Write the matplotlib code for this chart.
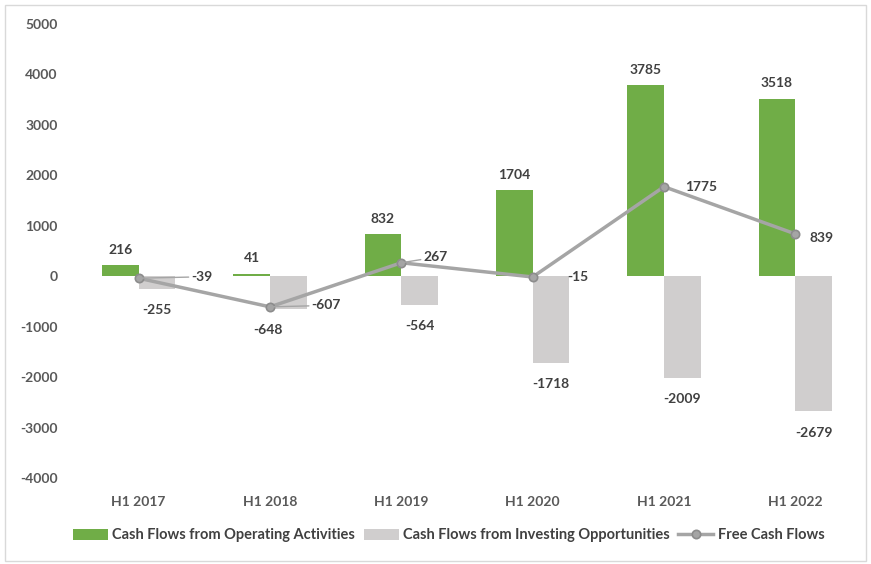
import matplotlib
matplotlib.use("Agg")
import matplotlib.pyplot as plt
import numpy as np
from matplotlib.patches import Rectangle

categories = ["H1 2017", "H1 2018", "H1 2019", "H1 2020", "H1 2021", "H1 2022"]
operating = [216, 41, 832, 1704, 3785, 3518]
investing = [-255, -648, -564, -1718, -2009, -2679]
free_cf = [-39, -607, 267, -15, 1775, 839]
yticks = [-4000, -3000, -2000, -1000, 0, 1000, 2000, 3000, 4000, 5000]

plt.rcParams['font.family'] = ['Lato', 'DejaVu Sans']
GREEN = "#70AD47"
GRAY = "#D0CECE"
LINE = "#A5A5A5"
TXT = "#404040"

fig = plt.figure(figsize=(8.71, 5.64), dpi=100)
fig.patches.append(Rectangle((0.006, 0.006), 0.988, 0.986, transform=fig.transFigure,
                             fill=False, edgecolor="#D9D9D9", lw=1))
ax = fig.add_axes([0.0838, 0.1525, 0.9047, 0.8049])

x = np.arange(len(categories))
w = 0.28
b1 = ax.bar(x - w / 2, operating, w, color=GREEN, label="Cash Flows from Operating Activities", zorder=2)
b2 = ax.bar(x + w / 2, investing, w, color=GRAY, label="Cash Flows from Investing Opportunities", zorder=2)
l1, = ax.plot(x, free_cf, color=LINE, lw=2.5, marker="o", ms=6, mfc=LINE, mec="#8C8C8C",
              mew=1.2, label="Free Cash Flows", zorder=3)

ax.set_ylim(-4000, 5000)
ax.set_xlim(-0.5, len(categories) - 0.5)
ax.set_yticks(yticks)
ax.set_yticklabels([str(t) for t in yticks])
ax.set_xticks(x)
ax.set_xticklabels(categories)
for s in ax.spines.values():
    s.set_visible(False)
ax.tick_params(length=0, labelsize=10, colors="#595959")
for lab in ax.get_xticklabels() + ax.get_yticklabels():
    lab.set_fontweight("bold")
ax.tick_params(axis='x', pad=13)
ax.tick_params(axis='y', pad=11)

# operating labels
for xi, v in zip(x, operating):
    ax.annotate(str(v), (xi - w / 2, v), xytext=(0, 7), textcoords="offset points",
                ha="center", va="bottom", fontsize=10, fontweight="bold", color=TXT)
# investing labels
inv_dx = [0, -15, 0, 0, 0, 0]
for xi, v, dx in zip(x, investing, inv_dx):
    ax.annotate(str(v), (xi + w / 2, v), xytext=(dx, -11), textcoords="offset points",
                ha="center", va="top", fontsize=10, fontweight="bold", color=TXT)
# free cash flow labels with leader lines
fcf_off = [(38, 1), (30, 1), (16, 4), (25, 0), (15, 0), (10, -3)]
leader = [True, True, True, False, False, False]
for xi, v, (dx, dy), ld in zip(x, free_cf, fcf_off, leader):
    ax.annotate(str(v), (xi, v), xytext=(dx, dy), textcoords="offset points",
                ha="left", va="center", fontsize=10, fontweight="bold", color=TXT,
                arrowprops=dict(arrowstyle="-", color=LINE, lw=1, shrinkA=0, shrinkB=2) if ld else None)

leg = fig.legend([b1, b2, l1], [b1.get_label(), b2.get_label(), l1.get_label()],
                 loc="center", bbox_to_anchor=(0.515, 0.051), ncol=3,
                 frameon=False, fontsize=10.5, handlelength=2.4, handleheight=0.8,
                 columnspacing=0.6, handletextpad=0.3)
for t in leg.get_texts():
    t.set_color(TXT)
    t.set_fontweight("bold")

fig.savefig("out.png", dpi=100)
